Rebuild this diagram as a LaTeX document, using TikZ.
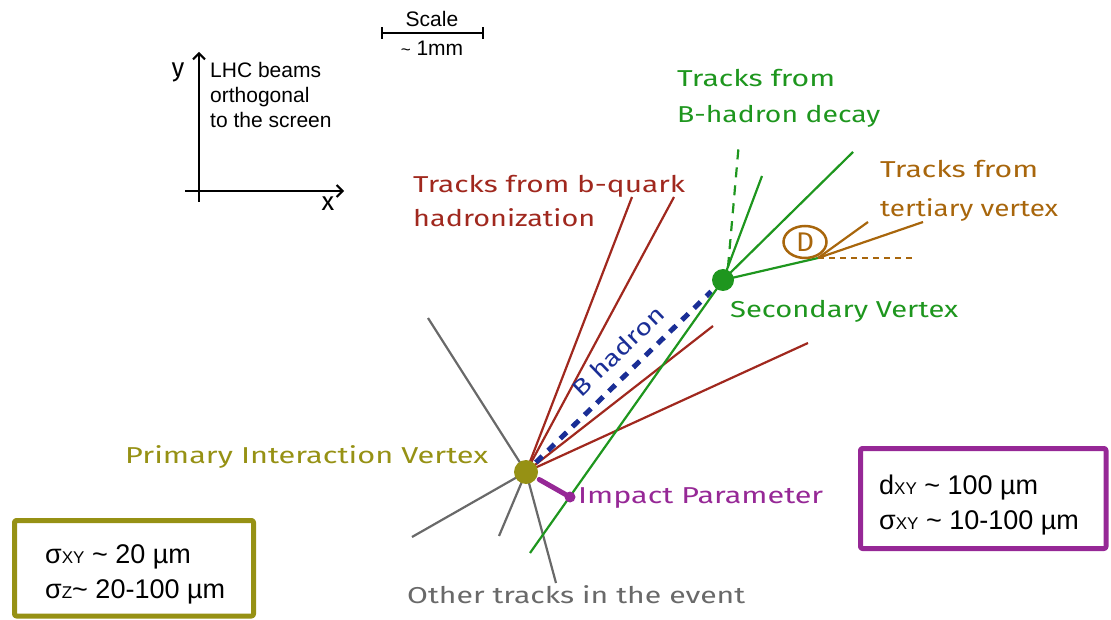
\documentclass[tikz,border=0pt]{standalone}
\usepackage{fontspec}
\usepackage{graphicx}
\setmainfont{Liberation Sans}
\newfontfamily\handfont{Fira Sans}
\usetikzlibrary{arrows.meta,calc,shapes.geometric}

\definecolor{trkred}{RGB}{160,40,30}
\definecolor{trkgreen}{RGB}{30,150,30}
\definecolor{trkbrown}{RGB}{168,102,12}
\definecolor{pvolive}{RGB}{150,145,20}
\definecolor{ipurple}{RGB}{150,40,150}
\definecolor{trkgray}{RGB}{105,105,105}
\definecolor{bblue}{RGB}{26,46,150}

% handwritten label stretched to a given width
\newcommand\hw[2]{\resizebox{#1pt}{\height}{#2}}

\tikzset{
  trk/.style={line width=2.2pt},
  hand/.style={inner sep=0pt, anchor=base west, font=\handfont\fontsize{23}{23}\selectfont},
  plain/.style={inner sep=0pt, anchor=base west, font=\fontsize{21}{25}\selectfont, align=left},
  box/.style={line width=5pt, line join=round, rounded corners=2pt},
  boxtext/.style={inner sep=0pt, anchor=base west, font=\fontsize{27}{27}\selectfont},
  vtx/.style={circle, inner sep=0pt, minimum size=#1},
}
\newcommand\sub[1]{{\fontsize{17}{17}\selectfont #1}}
\newcommand\tld{\ \char`\~\ }

\begin{document}
\begin{tikzpicture}[x=1pt,y=-1pt]
\useasboundingbox (0,0) rectangle (1111,620);

% ---------- axes ----------
\coordinate (yb) at (199,202); \coordinate (yt) at (199,52);
\coordinate (xl) at (185,191); \coordinate (xr) at (344,191);
\draw[line width=2pt,-{Straight Barb[length=6pt,width=12pt,line width=2pt]}] (yb) -- (yt);
\draw[line width=2pt,-{Straight Barb[length=6pt,width=12pt,line width=2pt]}] (xl) -- (xr);
\node[inner sep=0pt, font=\handfont\fontsize{26}{26}\selectfont] (ylab) at (178,72) {y};
\node[inner sep=0pt, font=\handfont\fontsize{26}{26}\selectfont] (xlab) at (328,204) {x};
\node[plain] (beams) at (210,128) {LHC beams\\orthogonal\\to the screen};

% ---------- scale bar ----------
\coordinate (sl) at (382,33); \coordinate (sr) at (483,33);
\draw[line width=2.5pt] (sl) -- (sr);
\draw[line width=2.5pt] ([yshift=-6pt]sl) -- ([yshift=6pt]sl);
\draw[line width=2.5pt] ([yshift=-6pt]sr) -- ([yshift=6pt]sr);
\node[inner sep=0pt, anchor=base, font=\fontsize{21}{21}\selectfont] (scl) at (432,27) {Scale};
\node[inner sep=0pt, anchor=base, font=\fontsize{21}{21}\selectfont] (mm) at (432,56) {{\fontsize{17}{17}\selectfont\char`\~}\ 1mm};

% ---------- vertices ----------
\coordinate (PVc) at (526,472);
\coordinate (SVc) at (723,280);
\coordinate (DV) at (818,258);

% other tracks (gray)
\coordinate (g1) at (428,318); \coordinate (g2) at (412,537);
\coordinate (g3) at (499,536); \coordinate (g4) at (556,583);
\foreach \g in {g1,g2,g3,g4} \draw[trk, trkgray] (PVc) -- (\g);

% b-quark hadronization tracks (red)
\coordinate (r1) at (632,197); \coordinate (r2) at (674,197);
\coordinate (r3) at (713,326); \coordinate (r4) at (808,343);
\foreach \r in {r1,r2,r3,r4} \draw[trk, trkred] (PVc) -- (\r);

% B hadron flight path
\draw[bblue, line width=5pt, dash pattern=on 9pt off 8pt] ($(PVc)!0.05!(SVc)$) -- ($(SVc)!0.06!(PVc)$);
\node[font=\handfont\fontsize{23}{23}\selectfont, text=bblue, rotate=44, inner sep=0pt] (blab) at (618,351) {\hw{118}{B hadron}};

% B-hadron decay tracks (green)
\coordinate (gb) at (530,553);
\coordinate (G1) at (762,176); \coordinate (G2) at (853,152);
\coordinate (gd1) at (728,267); \coordinate (gd2) at (739,142);
\draw[trk, trkgreen] (gb) -- (SVc);
\draw[trk, trkgreen] (SVc) -- (G1);
\draw[trk, trkgreen] (SVc) -- (G2);
\draw[trk, trkgreen] (SVc) -- (DV);
\draw[trk, trkgreen, dash pattern=on 10pt off 8pt] (gd1) -- (gd2);

% tertiary vertex (brown)
\coordinate (T1) at (868,222); \coordinate (T2) at (923,222); \coordinate (T3) at (915,258);
\draw[trk, trkbrown] (DV) -- (T1);
\draw[trk, trkbrown] (DV) -- (T2);
\draw[trk, trkbrown, dash pattern=on 6pt off 5pt] (DV) -- (T3);
\node[draw=trkbrown, line width=2.5pt, ellipse, minimum width=43pt, minimum height=32pt, inner sep=0pt,
      text=trkbrown, font=\handfont\fontsize{27}{27}\selectfont] (Dmes) at (805,242) {\hw{18}{D}};

% impact parameter
\coordinate (ipend) at (570,497);
\draw[ipurple, line width=5pt, line cap=round] ($(PVc)!0.3!(ipend)$) -- (ipend);
\fill[ipurple] (ipend) circle (5.5pt);

% vertex dots
\node[vtx=24pt, fill=pvolive] (PV) at (PVc) {};
\node[vtx=22pt, fill=trkgreen] (SV) at (SVc) {};

% ---------- handwritten labels ----------
\node[hand, text=trkgreen] (lg1) at (677,87) {\hw{158}{Tracks from}};
\node[hand, text=trkgreen] (lg2) at (677,123) {\hw{203}{B-hadron decay}};
\node[hand, text=trkbrown] (lt1) at (880,178) {\hw{158}{Tracks from}};
\node[hand, text=trkbrown] (lt2) at (880,217) {\hw{178}{tertiary vertex}};
\node[hand, text=trkred] (lr1) at (413,193) {\hw{272}{Tracks from b-quark}};
\node[hand, text=trkred] (lr2) at (413,227) {\hw{182}{hadronization}};
\node[hand, text=trkgreen] (lsv) at (730,317) {\hw{228}{Secondary Vertex}};
\node[hand, text=pvolive] (lpv) at (125,463) {\hw{363}{Primary Interaction Vertex}};
\node[hand, text=ipurple] (lip) at (578,503) {\hw{245}{Impact Parameter}};
\node[hand, text=trkgray] (lot) at (407,603) {\hw{338}{Other tracks in the event}};

% ---------- resolution boxes ----------
\draw[box, draw=pvolive] (14.5,520.5) rectangle (253.5,616);
\node[boxtext] (pv1) at (45,563) {σ\sub{XY}\tld 20 µm};
\node[boxtext] (pv2) at (45,598) {σ\sub{Z}\char`\~\ 20-100 µm};

\draw[box, draw=ipurple] (860.5,448.5) rectangle (1106,548.5);
\node[boxtext] (ip1) at (879,494) {d\sub{XY}\tld 100 µm};
\node[boxtext] (ip2) at (879,529) {σ\sub{XY}\tld 10-100 µm};

\end{tikzpicture}
\end{document}
